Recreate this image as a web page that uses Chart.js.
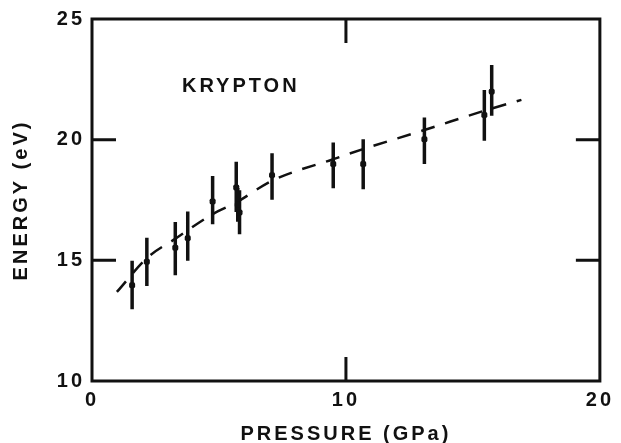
<!DOCTYPE html>
<html>
<head>
<meta charset="utf-8">
<script src="https://cdn.jsdelivr.net/npm/chart.js@4/dist/chart.umd.min.js"></script>
<style>
  html, body { margin: 0; padding: 0; background: #fff; }
  canvas { display: block; }
</style>
</head>
<body>
<canvas id="c" width="621" height="443"></canvas>
<script>
// ---- data ----
const pressure = [1.58, 2.16, 3.28, 3.77, 4.75, 5.68, 5.74, 5.81, 7.09, 9.50, 10.68, 13.09, 15.45, 15.74];
const energy   = [13.97, 14.94, 15.52, 15.92, 17.44, 18.02, 17.30, 16.98, 18.53, 18.99, 18.99, 20.02, 21.02, 21.99];
const errLow   = [12.97, 13.94, 14.38, 14.98, 16.50, 17.00, 16.60, 16.08, 17.51, 17.99, 17.95, 18.99, 19.95, 20.99];
const errHigh  = [14.98, 15.94, 16.59, 17.02, 18.49, 19.08, 18.00, 17.90, 19.44, 19.88, 20.02, 20.92, 22.06, 23.09];

const fitPressure = [0.98, 2.19, 3.26, 4.74, 5.68, 7.09, 9.50, 10.68, 13.09, 15.45, 16.91];
const fitEnergy   = [13.69, 15.12, 15.88, 16.91, 17.40, 18.30, 19.19, 19.61, 20.40, 21.20, 21.65];

const xTicks = [0, 10, 20];
const yTicks = [10, 15, 20, 25];
const xInnerTicks = [10];
const yInnerTicks = [15, 20];

const xTitle = 'PRESSURE (GPa)';
const yTitle = 'ENERGY (eV)';
const sampleLabel = 'KRYPTON';
const sampleLabelPos = [5.8, 22.2];

// ---- styling ----
const INK = '#111';
const FAMILY = "'Liberation Sans', Arial, Helvetica, sans-serif";
const FS = 20;
const LS = '3px';

const decor = {
  id: 'decor',
  beforeUpdate(chart) { chart.ctx.letterSpacing = LS; },
  beforeDraw(chart) { chart.ctx.letterSpacing = LS; },
  beforeDatasetsDraw(chart) {
    const { ctx, chartArea: a, scales: { x, y } } = chart;
    ctx.save();
    ctx.strokeStyle = INK;
    ctx.lineCap = 'butt';
    // error bars
    ctx.lineWidth = 3.5;
    ctx.beginPath();
    for (let i = 0; i < pressure.length; i++) {
      const px = x.getPixelForValue(pressure[i]);
      ctx.moveTo(px, y.getPixelForValue(errLow[i]));
      ctx.lineTo(px, y.getPixelForValue(errHigh[i]));
    }
    ctx.stroke();
    // frame
    ctx.lineWidth = 3;
    ctx.strokeRect(a.left, a.top, a.right - a.left, a.bottom - a.top);
    // inner ticks
    const TL = 24;
    ctx.beginPath();
    for (const v of yInnerTicks) {
      const py = y.getPixelForValue(v);
      ctx.moveTo(a.left, py); ctx.lineTo(a.left + TL, py);
      ctx.moveTo(a.right, py); ctx.lineTo(a.right - TL, py);
    }
    for (const v of xInnerTicks) {
      const px = x.getPixelForValue(v);
      ctx.moveTo(px, a.top); ctx.lineTo(px, a.top + TL);
      ctx.moveTo(px, a.bottom); ctx.lineTo(px, a.bottom - TL);
    }
    ctx.stroke();
    // sample label
    ctx.letterSpacing = LS;
    ctx.fillStyle = INK;
    ctx.font = 'bold ' + FS + 'px ' + FAMILY;
    ctx.textAlign = 'center';
    ctx.textBaseline = 'middle';
    ctx.fillText(sampleLabel, x.getPixelForValue(sampleLabelPos[0]) + 1.5, y.getPixelForValue(sampleLabelPos[1]));
    ctx.restore();
  }
};

new Chart(document.getElementById('c'), {
  type: 'scatter',
  data: {
    datasets: [
      {
        label: 'data',
        data: pressure.map((p, i) => ({ x: p, y: energy[i] })),
        pointRadius: 3.5,
        pointStyle: 'rectRounded',
        backgroundColor: INK,
        borderColor: INK,
        borderWidth: 0,
        showLine: false,
        order: 1
      },
      {
        label: 'fit',
        type: 'line',
        data: fitPressure.map((p, i) => ({ x: p, y: fitEnergy[i] })),
        borderColor: INK,
        borderWidth: 2.5,
        borderDash: [14, 11],
        pointRadius: 0,
        fill: false,
        cubicInterpolationMode: 'monotone',
        order: 2
      }
    ]
  },
  options: {
    responsive: false,
    animation: false,
    layout: { padding: { left: 0, right: 14, top: 17, bottom: 0 } },
    plugins: { legend: { display: false }, tooltip: { enabled: false } },
    scales: {
      x: {
        type: 'linear',
        min: 0, max: 20,
        afterBuildTicks(s) { s.ticks = xTicks.map(v => ({ value: v })); },
        afterFit(s) { s.height = 62; },
        grid: { display: false, drawTicks: false },
        border: { display: false },
        ticks: {
          color: INK, padding: 7,
          font: { family: FAMILY, size: FS, weight: 'bold' },
          maxRotation: 0
        },
        title: {
          display: true, text: xTitle, color: INK,
          font: { family: FAMILY, size: FS, weight: 'bold' },
          padding: { top: 0, bottom: -3 }
        }
      },
      y: {
        type: 'linear',
        min: 10, max: 25,
        afterBuildTicks(s) { s.ticks = yTicks.map(v => ({ value: v })); },
        afterFit(s) { s.width = 92; },
        grid: { display: false, drawTicks: false },
        border: { display: false },
        ticks: {
          color: INK, padding: 7,
          font: { family: FAMILY, size: FS, weight: 'bold' }
        },
        title: {
          display: true, text: yTitle, color: INK,
          font: { family: FAMILY, size: FS, weight: 'bold' },
          padding: { top: 9, bottom: 0 }
        }
      }
    }
  },
  plugins: [decor]
});
</script>
</body>
</html>
